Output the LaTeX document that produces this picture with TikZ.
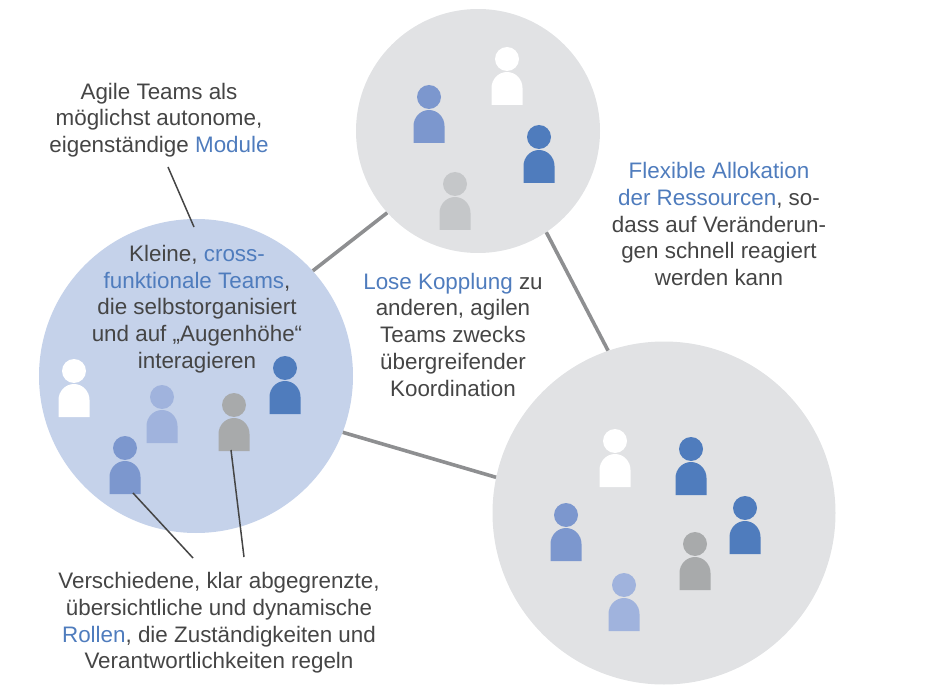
\documentclass[tikz,border=0pt]{standalone}
\usepackage{fontspec}
\setmainfont{Liberation Sans}
\definecolor{teamgrau}{HTML}{E1E2E4}
\definecolor{teamblau}{HTML}{C5D2EA}
\definecolor{blaudunkel}{HTML}{4F7CBD}
\definecolor{blaumittel}{HTML}{7C97CE}
\definecolor{blauhell}{HTML}{A0B3DD}
\definecolor{graudunkel}{HTML}{A8AAAB}
\definecolor{grauhell}{HTML}{C5C7C9}
\definecolor{kopplung}{HTML}{8E8F91}
\definecolor{schrift}{HTML}{454545}
\definecolor{akzent}{HTML}{4F7CBD}
\newcommand{\hl}[1]{\textcolor{akzent}{#1}}
\tikzset{
    team/.style={circle, inner sep=0pt, minimum size=#1},
    label/.style={align=center, text=schrift, font=\fontsize{22.4}{26.75}\selectfont},
    link/.style={color=kopplung, line width=3.6pt},
    leader/.style={color=schrift, line width=1.5pt},
    person/.pic={
        \fill[color=#1] (0,0) circle[radius=12];
        \fill[color=#1] (-15.5,46) -- (-15.5,29) arc[start angle=180, end angle=360, x radius=15.5, y radius=16] -- (15.5,46) -- cycle;
        \coordinate (-fuss) at (0,45);
    }
}

\begin{document}
\begin{tikzpicture}[x=1pt, y=-1pt]
    \useasboundingbox (0,0) rectangle (930,698);

    % Kreise.
    \node[team=314pt, fill=teamblau] (links) at (196,376) {};
    \node[team=244pt, fill=teamgrau] (oben) at (478,131) {};
    \node[team=343pt, fill=teamgrau] (rechts) at (664,513) {};

    % Kopplung.
    \draw[link] (links.42) -- (oben.222);
    \draw[link] (oben.-56) -- (rechts.109);
    \draw[link] (links.-21.5) -- (rechts.168.4);

    % Personen links.
    \pic (la) at (74,371) {person=white};
    \pic (lb) at (162,397) {person=blauhell};
    \pic (lc) at (234,405) {person=graudunkel};
    \pic (ld) at (285,368) {person=blaudunkel};
    \pic (le) at (125,448) {person=blaumittel};

    % Personen oben.
    \pic (oa) at (429,97) {person=blaumittel};
    \pic (ob) at (507,59) {person=white};
    \pic (oc) at (539,137) {person=blaudunkel};
    \pic (od) at (455,184) {person=grauhell};

    % Personen rechts.
    \pic (ra) at (615,441) {person=white};
    \pic (rb) at (691,449) {person=blaudunkel};
    \pic (rc) at (566,515) {person=blaumittel};
    \pic (rd) at (745,508) {person=blaudunkel};
    \pic (re) at (695,544) {person=graudunkel};
    \pic (rf) at (624,585) {person=blauhell};

    % Beschriftung.
    \node[label] (module) at (159,120) {Agile Teams als\\möglichst autonome,\\eigenständige \hl{Module}};
    \node[label] (kleine) at (197,309) {Kleine, \hl{cross-}\\\hl{funktionale Teams},\\die selbstorganisiert\\und auf „Augenhöhe“\\interagieren};
    \node[label] (lose) at (453,334.5) {\hl{Lose Kopplung} zu\\anderen, agilen\\Teams zwecks\\übergreifender\\Koordination};
    \node[label] (flexibel) at (719,224) {\hl{Flexible Allokation}\\\hl{der Ressourcen}, so-\\dass auf Veränderun-\\gen schnell reagiert\\werden kann};
    \node[label] (rollen) at (219,623) {Verschiedene, klar abgegrenzte,\\übersichtliche und dynamische\\\hl{Rollen}, die Zuständigkeiten und\\Verantwortlichkeiten regeln};

    % Hinweislinien.
    \coordinate (modulefuss) at (168,167);
    \coordinate (kleinekopf) at (194,227);
    \coordinate (rollena) at (193,558);
    \coordinate (rollenb) at (244,557);
    \draw[leader] (modulefuss) -- (kleinekopf);
    \draw[leader] ([xshift=8pt]le-fuss) -- (rollena);
    \draw[leader] ([xshift=-3pt]lc-fuss) -- (rollenb);
\end{tikzpicture}
\end{document}
